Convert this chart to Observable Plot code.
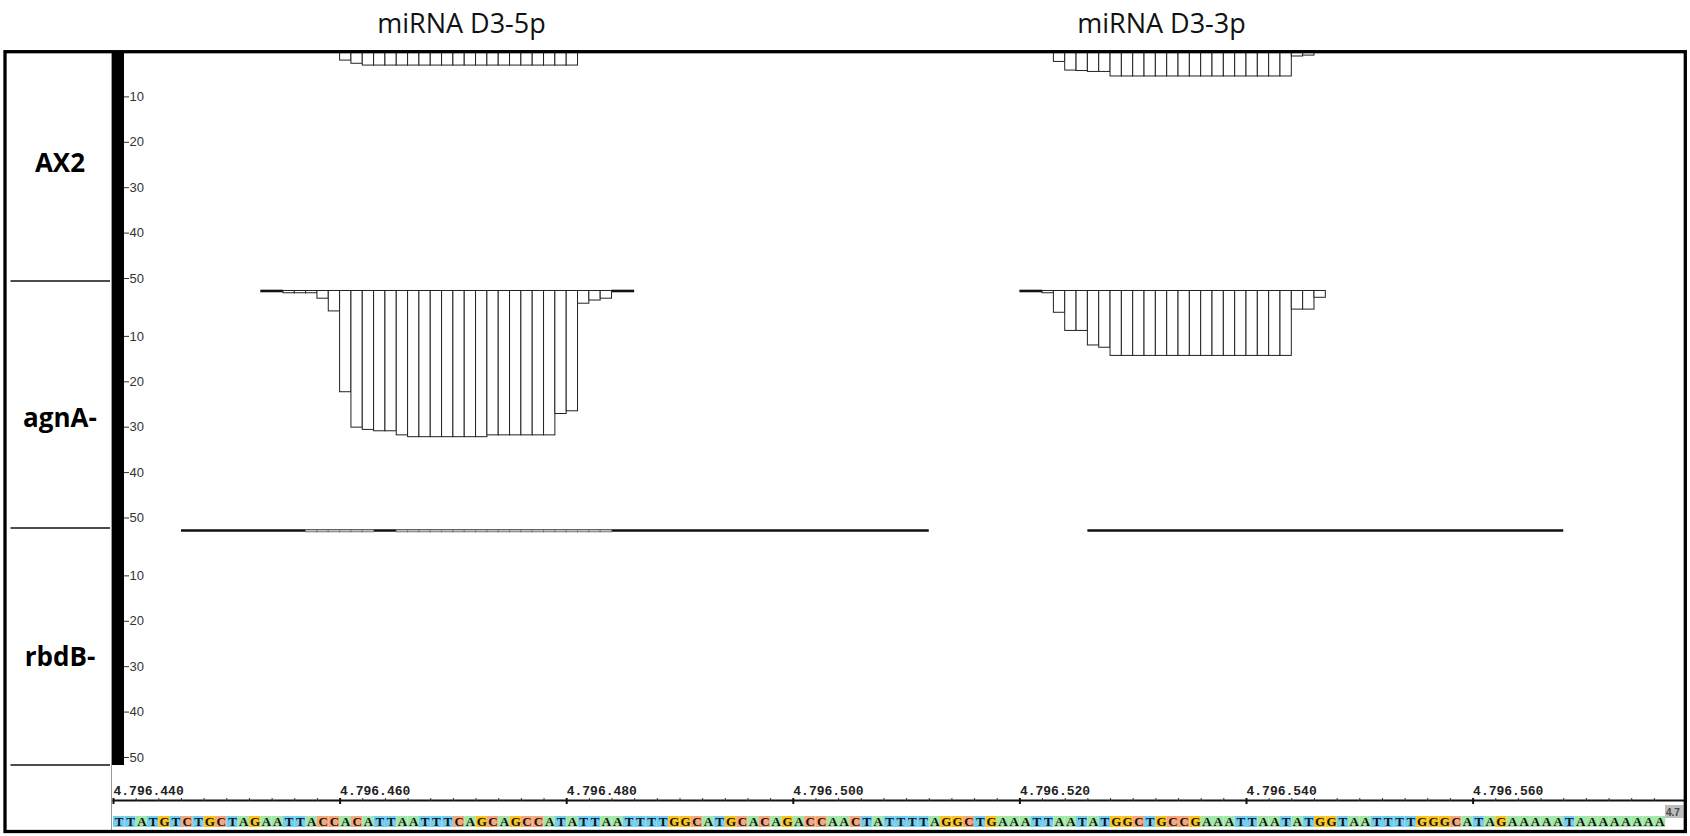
<!DOCTYPE html>
<html><head><meta charset="utf-8">
<script src="https://cdn.jsdelivr.net/npm/d3@7"></script>
<script src="https://cdn.jsdelivr.net/npm/@observablehq/plot@0.6"></script>
<style>
html,body{margin:0;padding:0;background:#fff;}
#wrap{position:relative;width:1690px;height:836px;overflow:hidden;background:#fff;}
#wrap svg{position:absolute;left:0;}
</style></head><body><div id="wrap"></div>
<script>
// ---------------- data ----------------
const panels = ["AX2", "agnA-", "rbdB-"];
const groupTitles = ["miRNA D3-5p", "miRNA D3-3p"];
const yTickValues = [10, 20, 30, 40, 50];
const majorTicks = [4796440, 4796460, 4796480, 4796500, 4796520, 4796540, 4796560];
const minorTicks = [4796442,4796444,4796446,4796448,4796450,4796452,4796454,4796456,4796458,
  4796462,4796464,4796466,4796468,4796470,4796472,4796474,4796476,4796478,
  4796482,4796484,4796486,4796488,4796490,4796492,4796494,4796496,4796498,
  4796502,4796504,4796506,4796508,4796510,4796512,4796514,4796516,4796518,
  4796522,4796524,4796526,4796528,4796530,4796532,4796534,4796536,4796538,
  4796542,4796544,4796546,4796548,4796550,4796552,4796554,4796556,4796558,
  4796562,4796564,4796566,4796568,4796570,4796572,4796574,4796576];
const seqStart = 4796440;
const sequence = "TTATGTCTGCTAGAATTACCACATTAATTTCAGCAGCCATATTAATTTTGGCATGCACAGACCAACTATTTTAGGCTGAAATTAATATGGCTGCCGAAATTAATATGGTAATTTTGGGCATAGAAAAATAAAAAAAA";
const edgeLabel = "4.7";

// read coverage per base (first base, values)
const ax2_5p_start = 4796460;
const ax2_5p = [2.0, 2.7, 3.1, 3.1, 3.1, 3.1, 3.1, 3.1, 3.1, 3.1, 3.1, 3.1, 3.1, 3.1, 3.1, 3.1, 3.1, 3.1, 3.1, 3.1, 3.1];
const ax2_3p_start = 4796523;
const ax2_3p = [2.3, 4.2, 4.3, 4.5, 4.5, 5.5, 5.5, 5.5, 5.5, 5.5, 5.5, 5.5, 5.5, 5.5, 5.5, 5.5, 5.5, 5.5, 5.5, 5.5, 5.5, 1.1, 0.9];
const agnA_5p_start = 4796455;
const agnA_5p = [0.5, 0.5, 0.5, 1.7, 4.5, 22.3, 30.1, 30.6, 30.9, 30.9, 31.8, 32.2, 32.2, 32.2, 32.2, 32.2, 32.2, 32.2, 31.8, 31.8, 31.8, 31.8, 31.8, 31.8, 27.1, 26.5, 2.8, 2.1, 1.7];
const agnA_3p_start = 4796522;
const agnA_3p = [0.5, 4.8, 8.8, 8.8, 12.0, 12.5, 14.3, 14.3, 14.3, 14.3, 14.3, 14.3, 14.3, 14.3, 14.3, 14.3, 14.3, 14.3, 14.3, 14.3, 14.3, 14.3, 4.1, 4.1, 1.5];
const rbdB_5p_start = 4796457;
const rbdB_5p = [0.4, 0.4, 0.4, 0.4, 0.4, 0.4, 0, 0, 0.4, 0.4, 0.4, 0.4, 0.4, 0.4, 0.4, 0.4, 0.4, 0.4, 0.4, 0.4, 0.4, 0.4, 0.4, 0.4, 0.4, 0.4, 0.4];

// spans of the baseline track (panel, from, to)
const linePanel = [1, 1, 1, 2, 2];
const lineFrom  = [4796453, 4796484, 4796520, 4796446, 4796526];
const lineTo    = [4796455, 4796486, 4796522, 4796512, 4796568];
const faintPanel = [0];
const faintFrom  = [4796459];
const faintTo    = [4796486];

// ---------------- build tables ----------------
const PANEL_SPAN = 52.75;
const PX_PER_UNIT = 4.54;
function bars(panel, start, values, tone) {
  return values.map((v, i) => ({panel, pos: start + i, value: v, tone})).filter(d => d.value > 0);
}
const coverage = [
  ...bars(0, ax2_5p_start, ax2_5p, "main"),
  ...bars(0, ax2_3p_start, ax2_3p, "main"),
  ...bars(1, agnA_5p_start, agnA_5p, "main"),
  ...bars(1, agnA_3p_start, agnA_3p, "main"),
  ...bars(2, rbdB_5p_start, rbdB_5p, "faint")
];
const lines = linePanel.map((p, i) => ({panel: p, from: lineFrom[i], to: lineTo[i]}));
const faintLines = faintPanel.map((p, i) => ({panel: p, from: faintFrom[i], to: faintTo[i]}));
const yTicks = [];
panels.forEach((p, k) => yTickValues.forEach(t => yTicks.push(k * PANEL_SPAN + t)));
const seqData = sequence.split("").map((b, i) => ({pos: seqStart + i, base: b, row: "seq"}));

const xDomain = [4796440, 4796560];
const xRange = [113, 113 + 120 * 11.33];

const wrap = document.getElementById("wrap");

// ---------------- coverage panels ----------------
const plot1 = Plot.plot({
  width: 1690, height: 836,
  marginLeft: 124, marginTop: 51, marginRight: 5, marginBottom: 66,
  style: {background: "transparent", overflow: "visible"},
  x: {domain: xDomain, range: xRange, axis: null},
  y: {domain: [0, 3 * PANEL_SPAN], range: [51, 51 + 3 * PANEL_SPAN * PX_PER_UNIT]},
  marks: [
    Plot.ruleY(faintLines, {y: d => d.panel * PANEL_SPAN, x1: "from", x2: "to", stroke: "#888", strokeWidth: 1}),
    Plot.ruleY(lines, {y: d => d.panel * PANEL_SPAN, x1: "from", x2: "to", stroke: "#111", strokeWidth: 2.6}),
    Plot.rect(coverage.filter(d => d.tone === "main"), {
      x1: "pos", x2: d => d.pos + 1,
      y1: d => d.panel * PANEL_SPAN, y2: d => d.panel * PANEL_SPAN + d.value,
      fill: "white", stroke: "#222", strokeWidth: 1
    }),
    Plot.rect(coverage.filter(d => d.tone === "faint"), {
      x1: "pos", x2: d => d.pos + 1,
      y1: d => d.panel * PANEL_SPAN, y2: d => d.panel * PANEL_SPAN + d.value,
      fill: "white", stroke: "#777", strokeWidth: 1
    }),
    Plot.axisY(yTicks, {
      anchor: "left", tickSize: -5, tickPadding: 0, textAnchor: "start",
      tickFormat: v => String(Math.round(v % PANEL_SPAN)),
      fontSize: 13, fontFamily: "Liberation Sans, Arial, sans-serif",
      fill: "#333", stroke: "#333", label: null
    })
  ]
});
plot1.style.top = "0px";
wrap.appendChild(plot1);

// ---------------- ruler and sequence ----------------
const baseColors = {A: "#a3e8a6", C: "#f7a77a", G: "#fbc41c", T: "#72cff3"};
const fmt = d3.format(",");
const plot2 = Plot.plot({
  width: 1690, height: 71,
  marginTop: 35, marginLeft: 113, marginRight: 5, marginBottom: 0,
  style: {background: "transparent", overflow: "visible"},
  x: {domain: xDomain, range: xRange},
  y: {type: "band", domain: ["seq"], range: [51, 62.5], padding: 0, axis: null},
  color: {domain: Object.keys(baseColors), range: Object.values(baseColors)},
  marks: [
    Plot.barX(seqData, {x1: "pos", x2: d => d.pos + 1, y: "row", fill: "base"}),
    Plot.text(seqData, {x: d => d.pos + 0.5, y: "row", text: "base", fontSize: 13, fontWeight: "bold",
      fontFamily: "Liberation Serif, Times New Roman, serif", fill: "#111"}),
    Plot.frame({anchor: "top", stroke: "#111", strokeWidth: 2}),
    Plot.axisX(minorTicks, {anchor: "top", tickSize: 3, fill: "none", stroke: "#333", label: null}),
    Plot.axisX(majorTicks, {anchor: "top", tickSize: 6, dy: 3, fill: "none", stroke: "#111", strokeWidth: 2, label: null}),
    Plot.axisX(majorTicks, {anchor: "top", tickSize: 0, tickPadding: 5.5, textAnchor: "start",
      tickFormat: v => fmt(v).replace(/,/g, "."), fontSize: 13, fontWeight: "bold",
      fontFamily: "Liberation Mono, Courier New, monospace", fill: "#222", label: null})
  ]
});
plot2.style.top = "765px";
wrap.appendChild(plot2);

// ---------------- frame, track labels, titles ----------------
const deco = d3.select(wrap).append("svg")
  .attr("width", 1690).attr("height", 836)
  .style("top", "0px").style("pointer-events", "none");
deco.append("line").attr("x1", 111.5).attr("x2", 111.5).attr("y1", 52).attr("y2", 831)
  .attr("stroke", "#999").attr("stroke-width", 1);
deco.append("rect").attr("x", 112).attr("y", 52).attr("width", 12).attr("height", 713).attr("fill", "#000");
[281, 528, 765].forEach(y => deco.append("line").attr("x1", 10.5).attr("x2", 110).attr("y1", y).attr("y2", y)
  .attr("stroke", "#111").attr("stroke-width", 1.6));
const labelBaselines = [171.5, 427, 666];
panels.forEach((p, i) => deco.append("text").attr("x", 60).attr("y", labelBaselines[i])
  .attr("text-anchor", "middle").attr("font-family", "Open Sans, sans-serif").attr("font-weight", "bold")
  .attr("font-size", 26).attr("fill", "#000").text(p));
const titleX = [461.5, 1161.5];
groupTitles.forEach((t, i) => deco.append("text").attr("x", titleX[i]).attr("y", 32.5)
  .attr("text-anchor", "middle").attr("font-family", "Open Sans, sans-serif")
  .attr("font-size", 27).attr("fill", "#111").text(t));
deco.append("rect").attr("x", 1665).attr("y", 805).attr("width", 18.5).attr("height", 13).attr("fill", "#bdbdbd");
deco.append("text").attr("x", 1666).attr("y", 815.5).attr("font-family", "Liberation Sans Narrow, Liberation Sans, sans-serif")
  .attr("font-weight", "bold").attr("font-size", 10).attr("fill", "#444").text(edgeLabel);
deco.append("rect").attr("x", 5).attr("y", 51.7).attr("width", 1680.3).attr("height", 779.8)
  .attr("fill", "none").attr("stroke", "#000").attr("stroke-width", 3.3);
</script></body></html>
